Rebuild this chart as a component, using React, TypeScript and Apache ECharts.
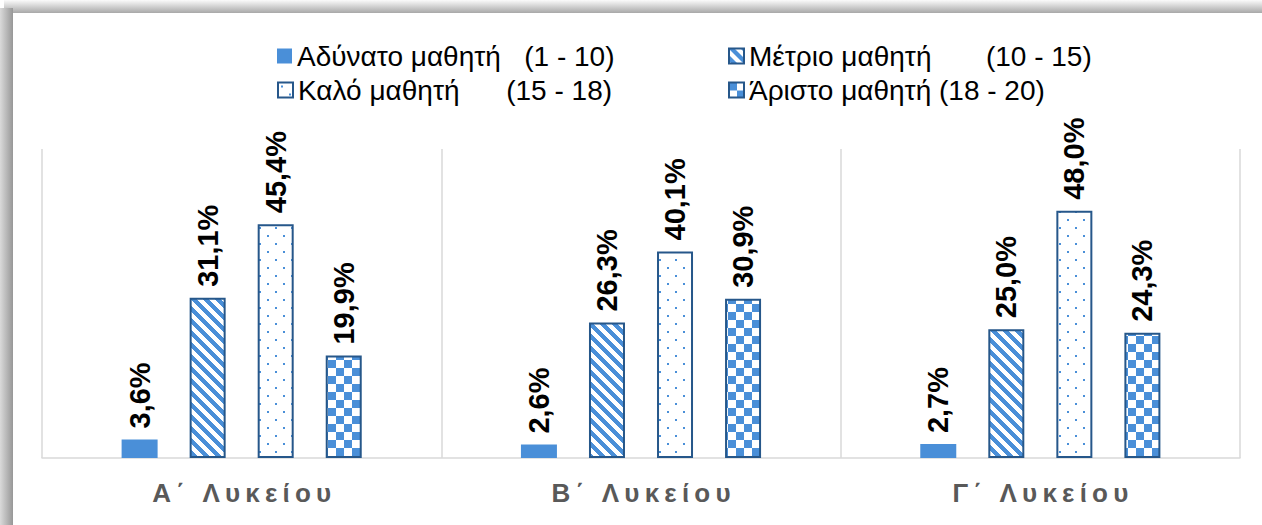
import React, { useEffect, useRef } from "react";
import * as echarts from "echarts";

const categories = ["Α΄ Λυκείου", "Β΄ Λυκείου", "Γ΄ Λυκείου"];
const seriesNames = [
  "Αδύνατο μαθητή\u00a0\u00a0\u00a0(1 - 10)",
  "Μέτριο μαθητή\u00a0\u00a0\u00a0\u00a0\u00a0\u00a0\u00a0(10 - 15)",
  "Καλό μαθητή\u00a0\u00a0\u00a0\u00a0\u00a0\u00a0(15 - 18)",
  "Άριστο μαθητή (18 - 20)",
];
const weakValues = [3.6, 2.6, 2.7];
const mediumValues = [31.1, 26.3, 25.0];
const goodValues = [45.4, 40.1, 48.0];
const excellentValues = [19.9, 30.9, 24.3];

const BLUE = [74, 143, 216];
const BLUE_HEX = "#4a8fd8";
const BORDER = "#26578a";
const FONT = "'Liberation Sans', Arial, sans-serif";

function makeTile(w: number, h: number, fn: (x: number, y: number) => boolean) {
  const c = document.createElement("canvas");
  c.width = w;
  c.height = h;
  const ctx = c.getContext("2d")!;
  const img = ctx.createImageData(w, h);
  for (let y = 0; y < h; y++) {
    for (let x = 0; x < w; x++) {
      const i = (y * w + x) * 4;
      const on = fn(x, y);
      img.data[i] = on ? BLUE[0] : 255;
      img.data[i + 1] = on ? BLUE[1] : 255;
      img.data[i + 2] = on ? BLUE[2] : 255;
      img.data[i + 3] = 255;
    }
  }
  ctx.putImageData(img, 0, 0);
  return c;
}

const spaced = (s: string) => s.split("").join("\u2009");

export default function App() {
  const ref = useRef<HTMLDivElement>(null);
  useEffect(() => {
    if (!ref.current) return;
    const stripes = makeTile(12, 12, (x, y) => ((x - y + 120) % 12) < 6);
    const dots = makeTile(16, 16, (x, y) =>
      (x >= 3 && x < 5 && y >= 3 && y < 5) || (x >= 11 && x < 13 && y >= 11 && y < 13)
    );
    const checks = makeTile(16, 16, (x, y) => ((Math.floor(x / 8) + Math.floor(y / 8)) % 2) === 0);

    const chart = echarts.init(ref.current, undefined, { renderer: "svg" });
    const label = {
      show: true,
      position: "top" as const,
      rotate: 90,
      align: "left" as const,
      verticalAlign: "middle" as const,
      distance: 11,
      color: "#000",
      fontSize: 29,
      fontWeight: "bold" as const,
      fontFamily: FONT,
      formatter: (p: any) => p.value.toFixed(1).replace(".", ",") + "%",
    };
    const fills = [
      { color: BLUE_HEX, borderWidth: 0 },
      { color: { image: stripes, repeat: "repeat" }, borderColor: BORDER, borderWidth: 2 },
      { color: { image: dots, repeat: "repeat" }, borderColor: BORDER, borderWidth: 2 },
      { color: { image: checks, repeat: "repeat" }, borderColor: BORDER, borderWidth: 2 },
    ];
    const values = [weakValues, mediumValues, goodValues, excellentValues];
    const legendPos = [
      { left: 277, top: 41 },
      { left: 728, top: 41 },
      { left: 277, top: 75 },
      { left: 728, top: 75 },
    ];
    chart.setOption({
      animation: false,
      backgroundColor: "#fff",
      legend: seriesNames.map((n, i) => ({
        data: [n],
        left: legendPos[i].left,
        top: legendPos[i].top,
        padding: 0,
        itemWidth: 15,
        itemHeight: 15,
        icon: "rect",
        textStyle: { color: "#000", fontSize: 28, fontFamily: FONT, lineHeight: 30 },
      })),
      grid: { left: 42, right: 22, top: 149, bottom: 67 },
      xAxis: {
        type: "category",
        data: categories,
        axisLine: { lineStyle: { color: "#d9d9d9", width: 1.5 } },
        axisTick: { show: false },
        splitLine: { show: true, lineStyle: { color: "#d9d9d9", width: 1.5 } },
        axisLabel: {
          color: "#595959",
          fontSize: 26,
          fontWeight: "bold",
          fontFamily: FONT,
          margin: 22,
          formatter: (v: string) => spaced(v),
        },
      },
      yAxis: { type: "value", min: 0, max: 60, show: false, splitLine: { show: false } },
      series: seriesNames.map((n, i) => ({
        name: n,
        type: "bar",
        data: values[i],
        barWidth: 36,
        barGap: "89%",
        itemStyle: fills[i],
        label,
      })),
    });
    return () => chart.dispose();
  }, []);
  return (
    <div style={{ position: "absolute", left: 0, top: 0, width: 1262, height: 525, background: "#fff", overflow: "hidden" }}>
      <div ref={ref} style={{ position: "absolute", left: 0, top: 0, width: 1262, height: 525 }} />
      <div style={{ position: "absolute", left: 4, top: 0, width: 1258, height: 13, background: "linear-gradient(to bottom, #fbfbfb, #a8a8a8)" }} />
      <div style={{ position: "absolute", left: 0, top: 8, width: 13, height: 517, background: "linear-gradient(to right, #dadada, #979797)" }} />
    </div>
  );
}
